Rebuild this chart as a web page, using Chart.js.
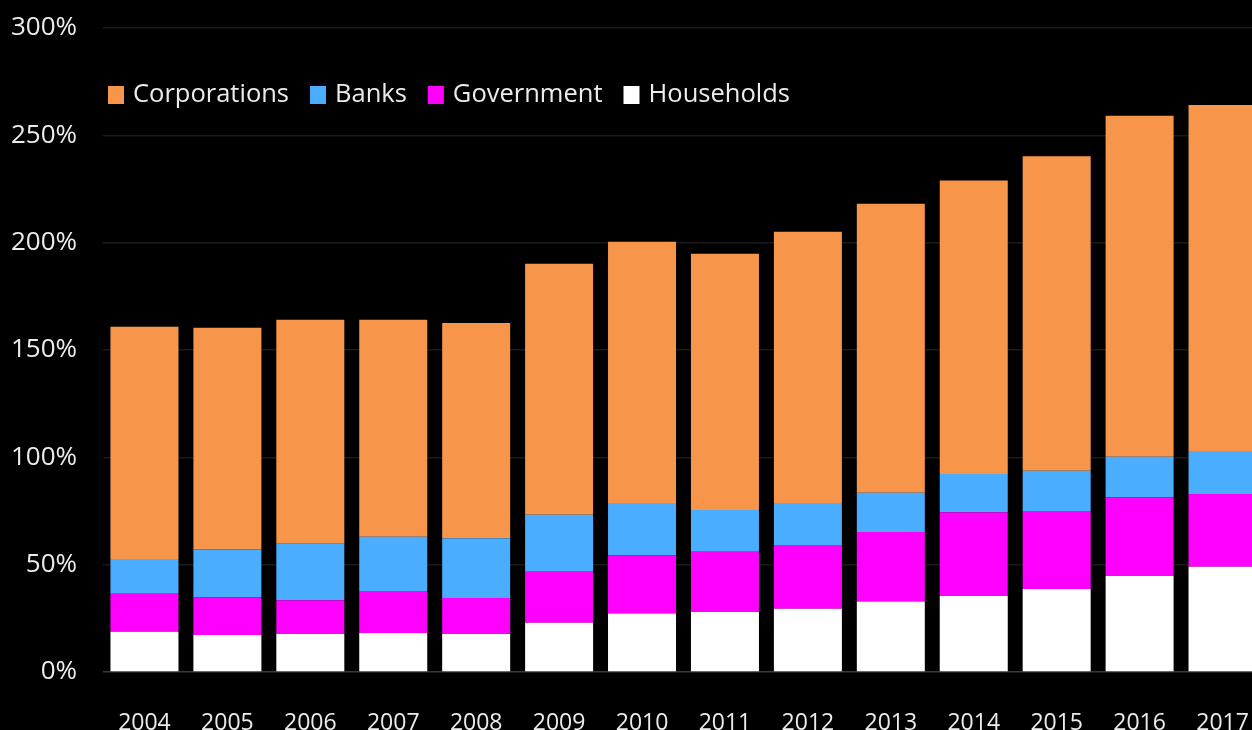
<!DOCTYPE html>
<html>
<head>
<meta charset="utf-8">
<script src="https://cdn.jsdelivr.net/npm/chart.js@4.4.1/dist/chart.umd.min.js"></script>
<style>
    html, body { margin: 0; padding: 0; background: #000; overflow: hidden; }
    #debtChart { display: block; }
</style>
</head>
<body>
<canvas id="debtChart" width="1266" height="730"></canvas>
<script>
// ==============================================================================
// DATA (% of GDP, stacked by sector)
// ==============================================================================
const years = ['2004', '2005', '2006', '2007', '2008', '2009', '2010',
               '2011', '2012', '2013', '2014', '2015', '2016', '2017'];

const households   = [18.8, 17.2, 17.7, 18.2, 17.7, 23.0, 27.3, 27.9, 29.5, 32.8, 35.4, 38.7, 44.7, 49.0];
const government   = [17.6, 17.6, 15.7, 19.5, 16.8, 23.7, 27.0, 28.1, 29.7, 32.4, 39.0, 36.3, 36.7, 33.9];
const banks        = [16.2, 22.3, 26.4, 25.3, 27.8, 26.6, 24.4, 19.5, 19.5, 18.3, 17.8, 18.8, 18.9, 20.0];
const corporations = [108.2, 103.3, 104.3, 101.1, 100.3, 116.9, 121.7, 119.3, 126.4, 134.6, 136.8, 146.5, 158.8, 161.2];

const yTicks = [0, 50, 100, 150, 200, 250, 300];

// ==============================================================================
// STYLE
// ==============================================================================
const FONT = '"Open Sans", "Noto Sans", sans-serif';
const TEXT = '#ececec';

// Legend drawn as one row inside the plot area (top-left), top of stack first
const inlineLegend = {
    id: 'inlineLegend',
    afterDatasetsDraw(chart) {
        const c = chart.ctx;
        const area = chart.chartArea;
        let x = area.left + 5;
        const yMid = 95;
        c.save();
        c.font = '25.5px ' + FONT;
        c.textBaseline = 'middle';
        c.textAlign = 'left';
        chart.data.datasets.slice().reverse().forEach(ds => {
            c.fillStyle = ds.backgroundColor;
            c.fillRect(x, yMid - 9, 16, 18);
            x += 16 + 9;
            c.fillStyle = TEXT;
            c.fillText(ds.label, x, yMid);
            x += c.measureText(ds.label).width + 21;
        });
        c.restore();
    }
};

// ==============================================================================
// CHART
// ==============================================================================
const ctx = document.getElementById('debtChart').getContext('2d');
new Chart(ctx, {
    type: 'bar',
    data: {
        labels: years,
        // bottom of the stack first
        datasets: [
            { label: 'Households',   data: households,   backgroundColor: '#ffffff' },
            { label: 'Government',   data: government,   backgroundColor: '#ff00ff' },
            { label: 'Banks',        data: banks,        backgroundColor: '#4badff' },
            { label: 'Corporations', data: corporations, backgroundColor: '#f7964a' }
        ]
    },
    plugins: [inlineLegend],
    options: {
        responsive: false,
        animation: false,
        datasets: { bar: { categoryPercentage: 1.0, barPercentage: 0.82, borderWidth: 0 } },
        layout: { padding: { top: 28, right: 2, left: 0, bottom: 0 } },
        plugins: {
            tooltip: { enabled: false },
            legend: { display: false }
        },
        scales: {
            x: {
                stacked: true,
                grid: { display: false },
                border: { display: false },
                ticks: { color: TEXT, font: { family: FONT, size: 23 }, padding: 30, maxRotation: 0, autoSkip: false },
                afterFit: s => {
                    s.height = 58;
                    // labels sit inside their categories, no side overhang needed
                    s.paddingLeft = 0;
                    s.paddingRight = 0;
                }
            },
            y: {
                stacked: true,
                min: 0,
                max: 300,
                afterBuildTicks: s => { s.ticks = yTicks.map(v => ({ value: v })); },
                afterFit: s => {
                    s.width = 103;
                    s.paddingTop = 0;
                    s.paddingBottom = 0;
                },
                grid: {
                    color: c => c.tick.value === 0 ? '#3a3a3a' : '#1a1a1a',
                    lineWidth: 1.5,
                    drawTicks: false
                },
                border: { display: false },
                ticks: {
                    color: TEXT,
                    font: { family: FONT, size: 26 },
                    padding: 26,
                    callback: v => v + '%'
                }
            }
        }
    }
});
</script>
</body>
</html>
